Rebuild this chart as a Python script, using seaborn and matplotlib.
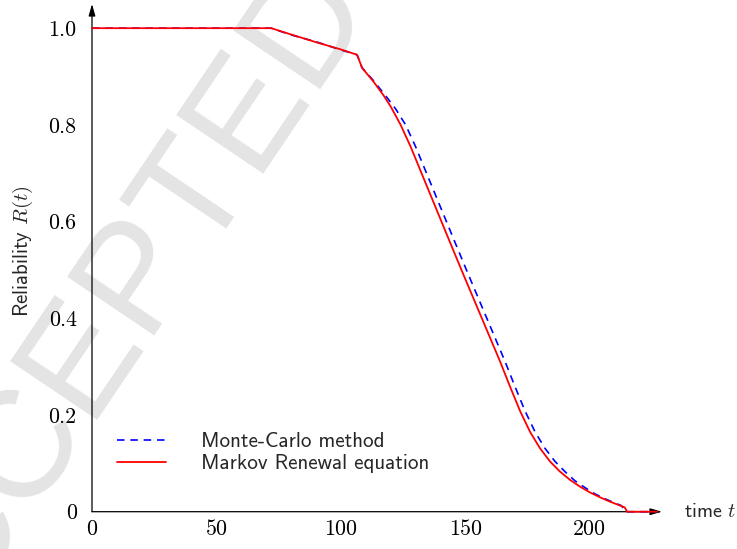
import matplotlib
matplotlib.use("Agg")
import matplotlib.pyplot as plt
import seaborn as sns
import pandas as pd

# ── datos ──
# Markov Renewal equation (línea roja continua)
t_markov = [0, 72, 80, 90, 100, 106.5, 108.5, 113, 117, 120, 124, 128, 132,
            136, 140, 144, 149, 154, 159, 164, 168, 172, 176, 180, 184, 188,
            192, 196, 200, 204, 208, 212, 214, 215, 227]
r_markov = [1.0, 1.0, 0.987, 0.971, 0.956, 0.945, 0.918, 0.890, 0.862, 0.838,
            0.800, 0.755, 0.705, 0.655, 0.605, 0.555, 0.493, 0.432, 0.371,
            0.310, 0.258, 0.208, 0.165, 0.131, 0.104, 0.083, 0.066, 0.052,
            0.040, 0.030, 0.021, 0.013, 0.009, 0.0, 0.0]

# Monte-Carlo method (línea azul discontinua)
t_mc = [0, 72, 80, 85, 90, 100, 106.5, 108.5, 113, 118, 122, 126, 130, 134,
        138, 142, 146, 151, 156, 161, 166, 170, 174, 178, 182, 186, 190, 194,
        198, 202, 206, 210, 212.5, 213.8, 214.3, 227]
r_mc = [1.0, 1.0, 0.986, 0.979, 0.972, 0.955, 0.945, 0.918, 0.892, 0.860,
        0.833, 0.800, 0.755, 0.705, 0.655, 0.605, 0.555, 0.493, 0.432, 0.371,
        0.310, 0.258, 0.208, 0.165, 0.131, 0.104, 0.083, 0.064, 0.050, 0.037,
        0.027, 0.018, 0.013, 0.006, 0.0, 0.0]

xticks = [0, 50, 100, 150, 200]
xtick_labels = ["0", "50", "100", "150", "200"]
yticks = [0, 0.2, 0.4, 0.6, 0.8, 1.0]
ytick_labels = ["0", "0.2", "0.4", "0.6", "0.8", "1.0"]

df_markov = pd.DataFrame({"t": t_markov, "R": r_markov})
df_mc = pd.DataFrame({"t": t_mc, "R": r_mc})

sns.set_style("white")
plt.rcParams["font.family"] = ["cmss10", "DejaVu Sans"]
plt.rcParams["mathtext.fontset"] = "cm"
plt.rcParams["axes.unicode_minus"] = False

fig = plt.figure(figsize=(7.37, 5.49), dpi=100)
ax = fig.add_axes([92 / 737, 37.3 / 549, 570 / 737, 507.7 / 549])
ax.set_facecolor("none")

# marca de agua
fig.text(0.151, 0.399, "ACCEPTED", rotation=56, fontsize=110, color="#e4e4e4",
         ha="center", va="center", family="Liberation Sans", zorder=-5)

sns.lineplot(data=df_mc, x="t", y="R", ax=ax, color="#0000ff", lw=1.2,
             linestyle=(0, (4.5, 3.5)), label="Monte-Carlo method",
             errorbar=None, sort=False, clip_on=False, zorder=3)
sns.lineplot(data=df_markov, x="t", y="R", ax=ax, color="#ff0000", lw=1.3,
             label="Markov Renewal equation", errorbar=None, sort=False,
             clip_on=False, zorder=4)

ax.set_xlim(0, 229)
ax.set_ylim(0, 1.05)

# ejes con flechas al estilo pgfplots
for s in ["top", "right", "left", "bottom"]:
    ax.spines[s].set_visible(False)
arrow = dict(arrowstyle="-|>,head_length=0.7,head_width=0.2", color="black",
             lw=0.9, shrinkA=0, shrinkB=0)
ax.annotate("", xy=(1, 0), xytext=(0, 0), xycoords="axes fraction",
            arrowprops=arrow, zorder=2)
ax.annotate("", xy=(0, 1), xytext=(0, 0), xycoords="axes fraction",
            arrowprops=arrow, zorder=2)

ax.set_xticks(xticks)
ax.set_xticklabels(xtick_labels, fontfamily="cmr10", fontsize=15.8)
ax.set_yticks(yticks)
ax.set_yticklabels(ytick_labels, fontfamily="cmr10", fontsize=15.8)
ax.tick_params(axis="both", direction="inout", length=8, width=0.9,
               color="black", labelcolor="black")
ax.tick_params(axis="x", pad=1.5)
ax.tick_params(axis="y", pad=7)

ax.set_xlabel("time $t$", fontsize=14.5, ha="left", va="center")
ax.xaxis.set_label_coords(1.038, 0.0)
ax.set_ylabel("Reliability $R(t)$", fontsize=15)
ax.yaxis.set_label_coords(-0.10, 0.514)

ax.legend(loc="upper left", bbox_to_anchor=(0.0439, 0.157), frameon=False,
          borderpad=0, borderaxespad=0, handlelength=2.33, handletextpad=1.66,
          labelspacing=0.15, prop={"family": "cmss10", "size": 15.2})

fig.savefig("out.png", dpi=100)
plt.close()
